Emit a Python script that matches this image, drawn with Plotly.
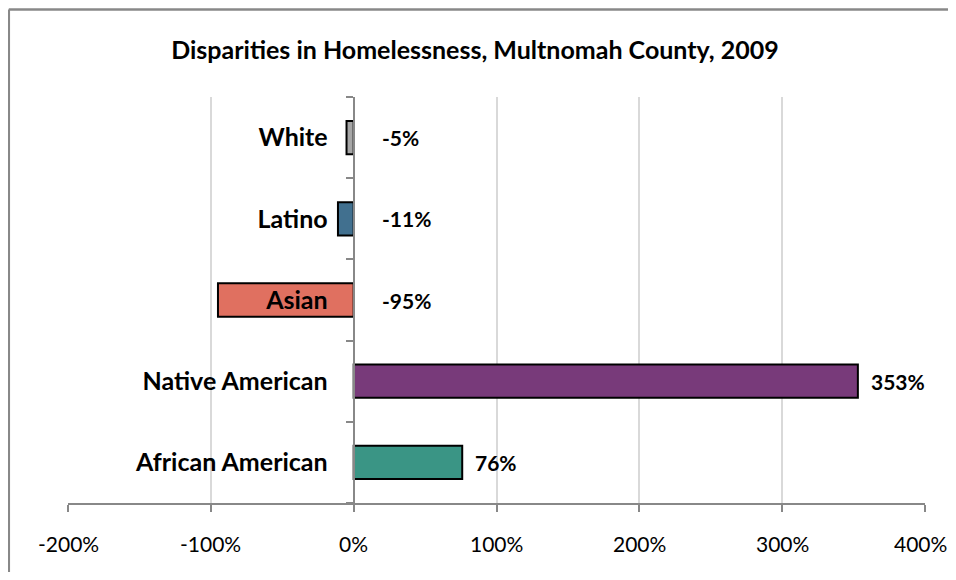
import plotly.graph_objects as go

categories = ["African American", "Native American", "Asian", "Latino", "White"]
values = [76, 353, -95, -11, -5]
value_labels = ["76%", "353%", "-95%", "-11%", "-5%"]
colors = ["#3A9585", "#783A7A", "#E07060", "#41708F", "#A6A6A6"]
x_ticks = [-200, -100, 0, 100, 200, 300, 400]
x_tick_labels = ["-200%", "-100%", "0%", "100%", "200%", "300%", "400%"]

FONT = "Lato"

fig = go.Figure()
fig.add_trace(go.Bar(
    x=values, y=categories, orientation="h",
    marker=dict(color=colors, line=dict(color="black", width=2)),
    hoverinfo="skip",
))

annotations = []
for c, v, t in zip(categories, values, value_labels):
    if v >= 0:
        annotations.append(dict(x=v, y=c, text=f"<b>{t}</b>", showarrow=False,
                                xanchor="left", xshift=11,
                                font=dict(family=FONT, size=21, color="black")))
    else:
        annotations.append(dict(x=0, y=c, text=f"<b>{t}</b>", showarrow=False,
                                xanchor="left", xshift=26,
                                font=dict(family=FONT, size=21, color="black")))

# x tick labels as annotations so the last one stays inside the page
for i, (tv, tt) in enumerate(zip(x_ticks, x_tick_labels)):
    annotations.append(dict(x=tv, xref="x", y=0, yref="paper", text=tt,
                            showarrow=False, xanchor="center", yanchor="middle",
                            yshift=-40, xshift=(-5 if i == len(x_ticks) - 1 else 0),
                            font=dict(family=FONT, size=21, color="black")))

# page body adds an 8px margin on every side; figure sized to fit without scrolling
W, H = 940, 564
L, R, T, B = 60, 23, 89, 69
pw, ph = W - L - R, H - T - B

def px(x):
    return (x - L) / pw

def py(y):
    return (H - B - y) / ph

border = dict(color="#888888", width=2.5)

fig.update_layout(
    width=W, height=H,
    margin=dict(l=L, r=R, t=T, b=B),
    paper_bgcolor="white", plot_bgcolor="white",
    showlegend=False,
    bargap=0.59,
    font=dict(family=FONT, color="black"),
    title=dict(text="<b>Disparities in Homelessness, Multnomah County, 2009</b>",
               x=467 / W, xref="container", xanchor="center",
               y=1 - 42 / H, yref="container", yanchor="middle",
               font=dict(family=FONT, size=25, color="black")),
    xaxis=dict(range=[-200, 400], tickvals=x_ticks, showticklabels=False,
               showgrid=True, gridcolor="#D9D9D9", gridwidth=2,
               zeroline=False, showline=True, linecolor="#888888", linewidth=2,
               ticks="outside", ticklen=7, tickcolor="#888888", tickwidth=2,
               fixedrange=True),
    yaxis=dict(categoryorder="array", categoryarray=categories,
               anchor="free", position=1/3, showgrid=False, zeroline=False,
               showline=True, linecolor="#888888", linewidth=2,
               ticks="outside", ticklen=7, tickcolor="#888888", tickwidth=2,
               tickson="boundaries", ticklabelstandoff=20,
               tickfont=dict(family=FONT, size=25, color="black", weight="bold"),
               fixedrange=True),
    annotations=annotations,
    shapes=[
        dict(type="line", xref="paper", yref="paper",
             x0=px(0.8), x1=px(W), y0=py(1.5), y1=py(1.5), line=border, layer="below"),
        dict(type="line", xref="paper", yref="paper",
             x0=px(0.8), x1=px(0.8), y0=py(1.5), y1=py(H), line=border, layer="below"),
    ],
)

fig.write_html("out.html")
